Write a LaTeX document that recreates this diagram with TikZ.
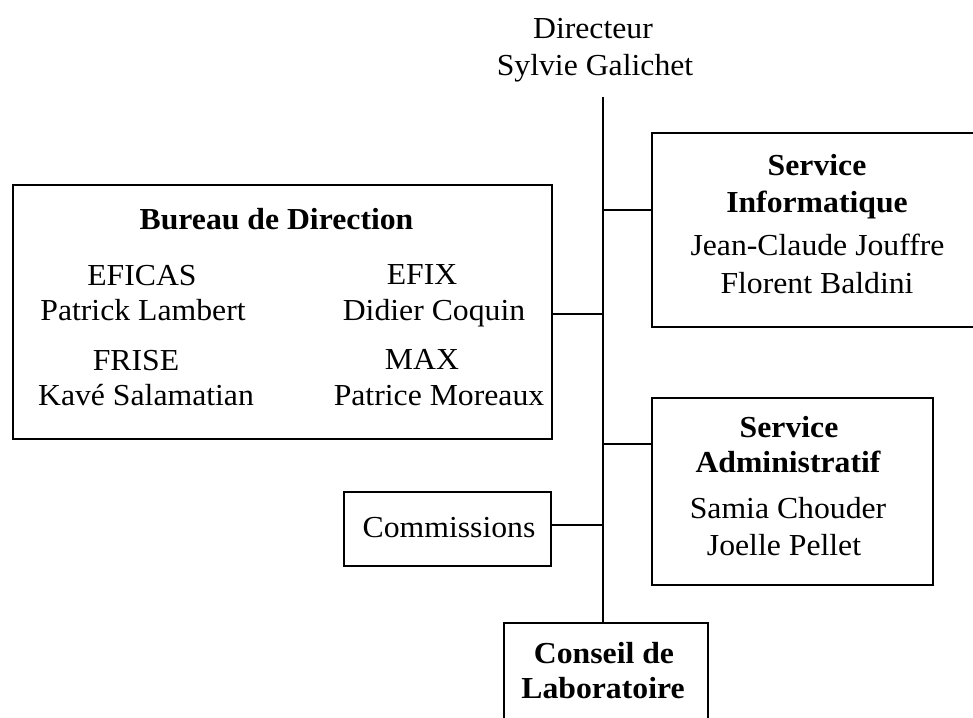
\documentclass[tikz,border=0pt]{standalone}
\usepackage{fontspec}
\setmainfont[FakeStretch=1.04]{Liberation Serif}
\newcommand\orgfs{\fontsize{30.5}{37}\selectfont}
\begin{document}
\begin{tikzpicture}[x=1pt,y=-1pt,
  box/.style={draw, line width=2pt, rectangle, inner sep=0pt},
  txt/.style={inner sep=0pt, anchor=base, font=\orgfs},
  btxt/.style={inner sep=0pt, anchor=base, font=\orgfs\bfseries},
  conn/.style={line width=2pt}]
\useasboundingbox (0,0) rectangle (973,717);
\clip (0,0) rectangle (973,717);
% director
\node[txt] (dir1) at (593,38) {Directeur};
\node[txt] (dir2) at (595,75) {Sylvie Galichet};
\coordinate (trunktop) at (603,97);
% boxes
\node[box, minimum width=330pt, minimum height=194pt] (info) at (817,230) {};
\node[box, minimum width=539pt, minimum height=254pt] (bureau) at (282.5,312) {};
\node[box, minimum width=281pt, minimum height=187pt] (admin) at (792.5,491.5) {};
\node[box, minimum width=207pt, minimum height=74pt] (comm) at (447.5,529) {};
\node[box, minimum width=204pt, minimum height=137pt] (conseil) at (606,691.5) {};
% texts: informatique
\node[btxt] (i1) at (817,175) {Service};
\node[btxt] (i2) at (817,212) {Informatique};
\node[txt] (i3) at (817.5,255) {Jean-Claude Jouffre};
\node[txt] (i4) at (817,293) {Florent Baldini};
% bureau
\node[btxt] (b0) at (276.5,229) {Bureau de Direction};
\node[txt] (b1) at (142,285) {EFICAS};
\node[txt] (b2) at (143,320) {Patrick Lambert};
\node[txt] (b3) at (136,370) {FRISE};
\node[txt] (b4) at (146,405) {Kavé Salamatian};
\node[txt] (b5) at (422,284) {EFIX};
\node[txt] (b6) at (434,320) {Didier Coquin};
\node[txt] (b7) at (422,369) {MAX};
\node[txt] (b8) at (439,405) {Patrice Moreaux};
% admin
\node[btxt] (a1) at (789,437) {Service};
\node[btxt] (a2) at (788,472) {Administratif};
\node[txt] (a3) at (788,518) {Samia Chouder};
\node[txt] (a4) at (784,555) {Joelle Pellet};
% commissions
\node[txt] (c1) at (449,537) {Commissions};
% conseil
\node[btxt] (k1) at (604,663) {Conseil de};
\node[btxt] (k2) at (603,698) {Laboratoire};
% connectors
\coordinate (jinfo) at (602,210);
\coordinate (jbur) at (603,314);
\coordinate (jadm) at (602,444);
\coordinate (jcom) at (603,525);
\draw[conn] (trunktop) -- (trunktop |- conseil.north);
\draw[conn] (jinfo) -- (jinfo -| info.west);
\draw[conn] (jbur) -- (jbur -| bureau.east);
\draw[conn] (jadm) -- (jadm -| admin.west);
\draw[conn] (jcom) -- (jcom -| comm.east);
\end{tikzpicture}
\end{document}
